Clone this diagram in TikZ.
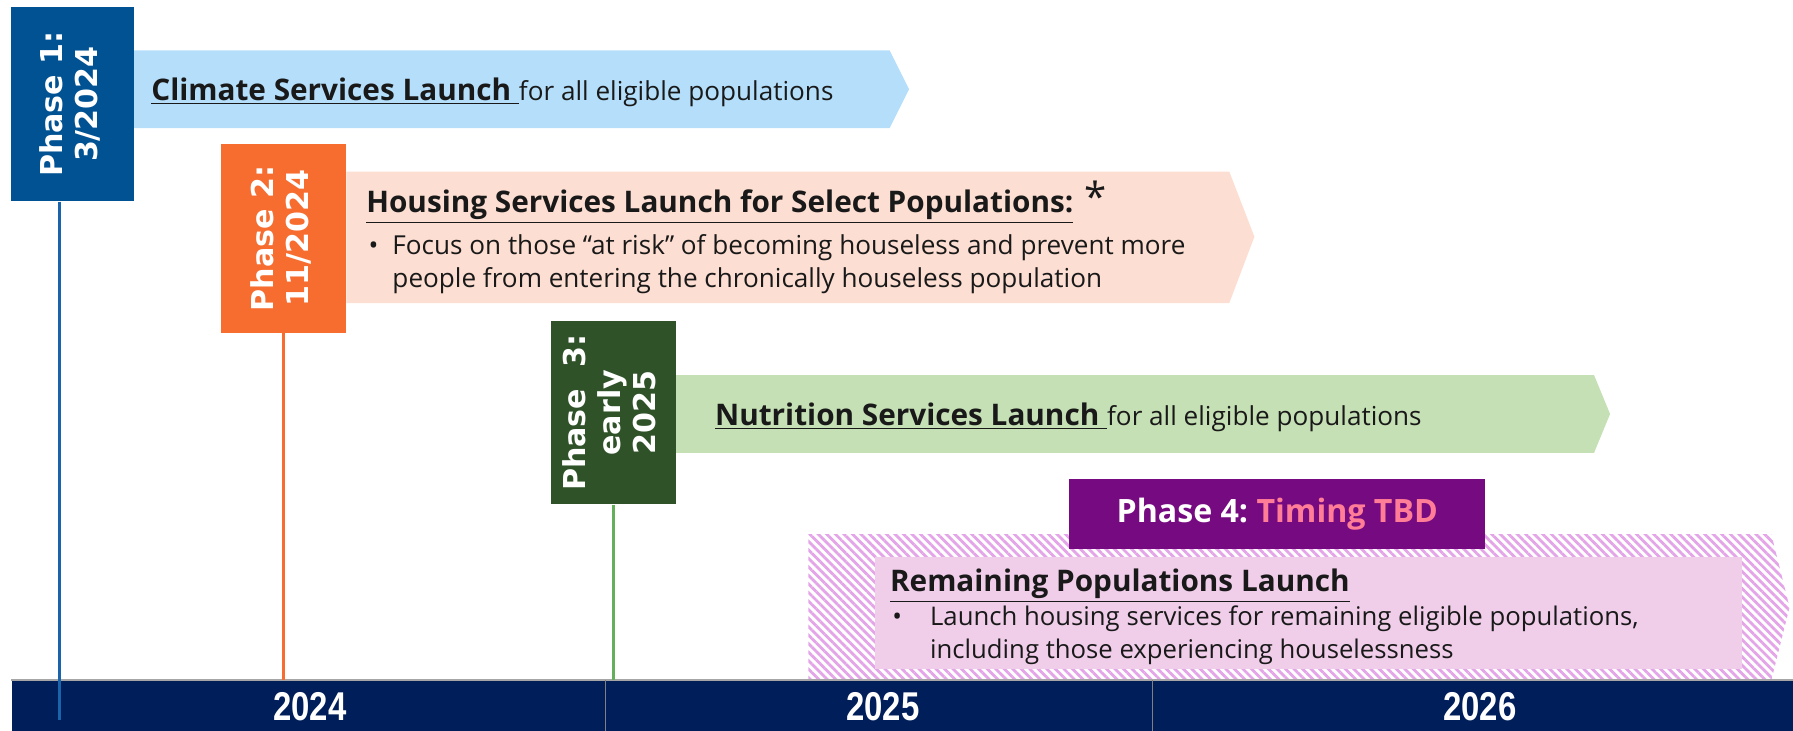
\documentclass[tikz,border=0pt]{standalone}
\usepackage{fontspec}
\setmainfont{Open Sans}
\newfontfamily\phasefont{DejaVu Sans}
\newfontfamily\yearfont[FakeStretch=0.82]{Liberation Sans}
\usetikzlibrary{patterns.meta}

\definecolor{p1blue}{RGB}{0,82,147}
\definecolor{p1line}{RGB}{25,100,170}
\definecolor{p1light}{RGB}{180,222,250}
\definecolor{p2orange}{RGB}{247,108,47}
\definecolor{p2light}{RGB}{252,222,210}
\definecolor{p3green}{RGB}{47,82,41}
\definecolor{p3line}{RGB}{100,175,90}
\definecolor{p3light}{RGB}{197,224,180}
\definecolor{p4purple}{RGB}{118,10,128}
\definecolor{p4pink}{RGB}{255,125,150}
\definecolor{p4light}{RGB}{240,206,234}
\definecolor{p4hatch}{RGB}{228,165,232}
\definecolor{barnavy}{RGB}{0,30,90}
\definecolor{textgray}{RGB}{25,25,25}

\newcommand{\headline}[1]{\underline{\textbf{\fontsize{14.8}{17}\selectfont #1}}}

\begin{document}
\begin{tikzpicture}[x=0.02cm, y=-0.02cm,
    phasebox/.style={inner sep=0pt, text=white, font=\phasefont\bfseries\fontsize{15}{17.5}\selectfont},
    head/.style={anchor=west, inner sep=0pt, text=textgray, font=\fontsize{13}{17}\selectfont},
    bullets/.style={anchor=north west, inner sep=0pt, text=textgray, font=\fontsize{13}{16.5}\selectfont},
    year/.style={text=white, font=\yearfont\bfseries\fontsize{20}{24}\selectfont}]
  \useasboundingbox (0,0) rectangle (1568,638.5);

  % arrow bands
  \fill[p1light] (117,44) -- (778,44) -- (795,78) -- (778,112) -- (117,112) -- cycle;
  \fill[p2light] (303,150) -- (1075,150) -- (1097,207) -- (1075,265) -- (303,265) -- cycle;
  \fill[p3light] (591,328) -- (1394,328) -- (1408,362) -- (1394,396) -- (591,396) -- cycle;
  \fill[pattern={Lines[angle=-45,distance=3pt,line width=1.4pt]}, pattern color=p4hatch]
    (707,467) -- (1549,467) -- (1565,531) -- (1549,595) -- (707,595) -- cycle;
  \node[fill=p4light, inner sep=0pt, minimum width=15.16cm, minimum height=1.96cm, anchor=north west] (r4) at (765,487) {};

  % phase boxes
  \node[phasebox, fill=p1blue, minimum width=2.14cm, minimum height=3.4cm] (p1) at (63.5,91)
    {\rotatebox{90}{\begin{tabular}{@{}c@{}}Phase 1:\\3/2024\end{tabular}}};
  \node[phasebox, fill=p2orange, minimum width=2.2cm, minimum height=3.3cm] (p2) at (248,208.5)
    {\rotatebox{90}{\begin{tabular}{@{}c@{}}Phase 2:\\11/2024\end{tabular}}};
  \node[phasebox, fill=p3green, minimum width=2.18cm, minimum height=3.2cm] (p3) at (536.5,361)
    {\rotatebox{90}{\begin{tabular}{@{}c@{}}Phase~ 3:\\early\\2025\end{tabular}}};
  \node[fill=p4purple, minimum width=7.28cm, minimum height=1.22cm, text=white,
    font=\bfseries\fontsize{16}{18}\selectfont] (p4) at (1117,449.5)
    {Phase 4:~\textcolor{p4pink}{Timing TBD}};

  % texts
  \node[head] (t1) at (132,81) {\headline{Climate Services Launch }for all eligible populations};
  \node[head] (t2) at (320,181) {\headline{Housing Services Launch for Select Populations:}};
  \node[inner sep=0pt, text=textgray, font=\fontsize{20}{20}\selectfont] (star) at (958,172) {*};
  \node[bullets] (b2) at (322,202) {\begin{tabular}{@{}l@{\hspace{7pt}}l@{}}\textbullet & Focus on those ``at risk'' of becoming houseless and prevent more\\
    & people from entering the chronically houseless population\end{tabular}};
  \node[head] (t3) at (625,365) {\headline{Nutrition Services Launch }for all eligible populations};
  \node[head] (t4) at (778,512) {\headline{Remaining Populations Launch}};
  \node[bullets, font=\fontsize{12.8}{16.5}\selectfont] (b4) at (780,526) {\begin{tabular}{@{}l@{\hspace{14pt}}l@{}}\textbullet & Launch housing services for remaining eligible populations,\\
    & including those experiencing houselessness\end{tabular}};

  % timeline bar
  \node[fill=barnavy, inner sep=0pt, minimum width=31.16cm, minimum height=0.87cm, anchor=north west] (bar) at (10,595) {};
  \draw[gray!70, line width=1pt] (bar.north west) -- (bar.north east);
  \coordinate (d1) at (529,0);
  \coordinate (d2) at (1008,0);
  \draw[gray] (bar.north -| d1) -- (bar.south -| d1);
  \draw[gray] (bar.north -| d2) -- (bar.south -| d2);
  \node[year] (y24) at (271,618) {2024};
  \node[year] (y25) at (772,618) {2025};
  \node[year] (y26) at (1294,618) {2026};

  % phase lines
  \coordinate (l1) at (52,630);
  \draw[p1line, line width=1.3pt] (p1.south -| l1) -- (l1);
  \draw[p2orange, line width=1.2pt] (p2.south) -- (p2.south |- bar.north);
  \draw[p3line, line width=1.2pt] (p3.south) -- (p3.south |- bar.north);
\end{tikzpicture}
\end{document}
